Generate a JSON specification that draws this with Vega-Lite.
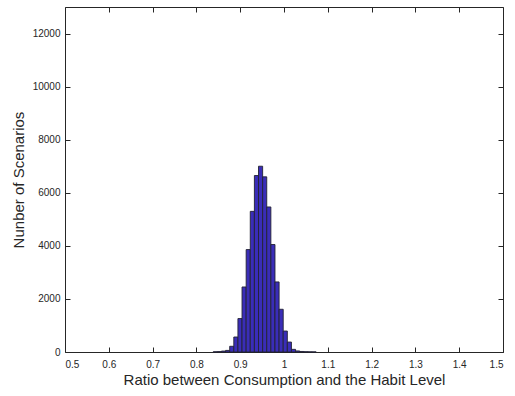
{
  "$schema": "https://vega.github.io/schema/vega-lite/v6.json",
  "width": 438,
  "height": 345,
  "autosize": {"type": "none"},
  "padding": {"left": 65, "top": 7, "right": 12, "bottom": 44},
  "background": "white",
  "config": {
    "font": "Liberation Sans",
    "view": {"stroke": "#262626", "strokeWidth": 1},
    "axis": {
      "grid": false,
      "domain": false,
      "tickColor": "#262626",
      "tickSize": -5,
      "labelPadding": 10,
      "labelFont": "Liberation Sans",
      "labelFontSize": 10,
      "labelColor": "#262626",
      "titleFont": "Liberation Sans",
      "titleFontSize": 15,
      "titleFontWeight": "normal",
      "titleColor": "#262626"
    }
  },
  "data": {
    "values": [
      {"start": 0.8384, "end": 0.8478, "count": 8},
      {"start": 0.8478, "end": 0.8572, "count": 15},
      {"start": 0.8572, "end": 0.8666, "count": 35},
      {"start": 0.8666, "end": 0.876, "count": 60},
      {"start": 0.876, "end": 0.8854, "count": 215},
      {"start": 0.8854, "end": 0.8948, "count": 565},
      {"start": 0.8948, "end": 0.9042, "count": 1260},
      {"start": 0.9042, "end": 0.9136, "count": 2450},
      {"start": 0.9136, "end": 0.923, "count": 3860},
      {"start": 0.923, "end": 0.9324, "count": 5300},
      {"start": 0.9324, "end": 0.9418, "count": 6650},
      {"start": 0.9418, "end": 0.9512, "count": 7000},
      {"start": 0.9512, "end": 0.9606, "count": 6600},
      {"start": 0.9606, "end": 0.97, "count": 5465},
      {"start": 0.97, "end": 0.9794, "count": 4050},
      {"start": 0.9794, "end": 0.9888, "count": 2640},
      {"start": 0.9888, "end": 0.9982, "count": 1610},
      {"start": 0.9982, "end": 1.0076, "count": 790},
      {"start": 1.0076, "end": 1.017, "count": 375},
      {"start": 1.017, "end": 1.0264, "count": 100},
      {"start": 1.0264, "end": 1.0358, "count": 40},
      {"start": 1.0358, "end": 1.0452, "count": 20},
      {"start": 1.0452, "end": 1.0546, "count": 10},
      {"start": 1.0546, "end": 1.064, "count": 5},
      {"start": 1.064, "end": 1.0734, "count": 3}
    ]
  },
  "layer": [
    {
      "mark": {"type": "bar", "fill": "#3a2db8", "stroke": "#222233", "strokeWidth": 0.9},
      "encoding": {
        "x": {
          "field": "start", "type": "quantitative",
          "scale": {"domain": [0.5, 1.5], "nice": false, "zero": false},
          "axis": {"orient": "bottom", "values": [0.5, 0.6, 0.7, 0.8, 0.9, 1, 1.1, 1.2, 1.3, 1.4, 1.5], "format": "~g", "title": "Ratio between Consumption and the Habit Level", "titlePadding": 3, "labelPadding": 12}
        },
        "x2": {"field": "end"},
        "y": {
          "field": "count", "type": "quantitative",
          "scale": {"domain": [0, 13000], "nice": false},
          "axis": {"orient": "left", "values": [0, 2000, 4000, 6000, 8000, 10000, 12000], "format": "d", "title": "Nunber of Scenarios", "titlePadding": 6}
        },
        "y2": {"datum": 0}
      }
    },
    {
      "mark": {"type": "bar", "opacity": 0},
      "encoding": {
        "x": {
          "field": "start", "type": "quantitative",
          "scale": {"domain": [0.5, 1.5], "nice": false, "zero": false},
          "axis": {"orient": "top", "values": [0.5, 0.6, 0.7, 0.8, 0.9, 1, 1.1, 1.2, 1.3, 1.4, 1.5], "labels": false, "title": null}
        },
        "x2": {"field": "end"},
        "y": {
          "field": "count", "type": "quantitative",
          "scale": {"domain": [0, 13000], "nice": false},
          "axis": {"orient": "right", "values": [0, 2000, 4000, 6000, 8000, 10000, 12000], "labels": false, "title": null}
        },
        "y2": {"datum": 0}
      }
    }
  ],
  "resolve": {"axis": {"x": "independent", "y": "independent"}}
}
